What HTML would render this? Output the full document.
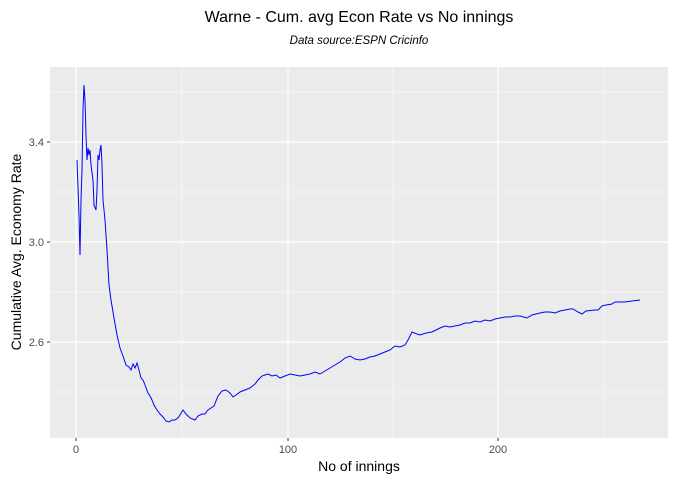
<!DOCTYPE html>
<html><head><meta charset="utf-8"><style>
body{margin:0;background:#fff;}
svg{display:block;font-family:"Liberation Sans",Arial,sans-serif;}
</style></head><body>
<svg width="676" height="482" viewBox="0 0 676 482">
<rect x="50" y="67" width="618" height="371" fill="#ebebeb"/>
<g stroke="#fff" stroke-width="0.6">
<line x1="50" x2="668" y1="92" y2="92"/><line x1="50" x2="668" y1="192" y2="192"/>
<line x1="50" x2="668" y1="292" y2="292"/><line x1="50" x2="668" y1="392" y2="392"/>
<line x1="182" x2="182" y1="67" y2="438"/><line x1="393" x2="393" y1="67" y2="438"/><line x1="604" x2="604" y1="67" y2="438"/>
</g>
<g stroke="#fff" stroke-width="1.2">
<line x1="50" x2="668" y1="142" y2="142"/><line x1="50" x2="668" y1="242" y2="242"/><line x1="50" x2="668" y1="342" y2="342"/>
<line x1="76" x2="76" y1="67" y2="438"/><line x1="288" x2="288" y1="67" y2="438"/><line x1="498" x2="498" y1="67" y2="438"/>
</g>
<g stroke="#333" stroke-width="1">
<line x1="47" x2="50" y1="142" y2="142"/><line x1="47" x2="50" y1="242" y2="242"/><line x1="47" x2="50" y1="342" y2="342"/>
<line x1="76" x2="76" y1="438" y2="441"/><line x1="288" x2="288" y1="438" y2="441"/><line x1="498" x2="498" y1="438" y2="441"/>
</g>
<polyline fill="none" stroke="#0000ff" stroke-width="1" points="77,160 79,215 80,255 81,200 82,170 83,110 84,85 85,100 86,135 87,160 88,148 89,155 90,150 91,165 93,180 94,205 96,210 97,190 98,155 99,160 100,150 101,145 102,165 103,200 105,220 107,250 109,285 111,300 114,318 117,335 120,348 123,356 126,365 129,367 131,370 133,364 135,368 137,363 139,370 141,378 143,380 145,385 148,393 150,396 152,400 154,405 157,410 160,414 163,417 166,421 169,422 172,420 175,420 178,418 183,410 186,414 190,418 195,420 198,416 202,414 205,414 208,410 211,408 214,406 218,396 222,391 226,390 230,393 233,397 236,395 240,392 245,390 250,388 255,384 258,380 262,376 265,375 268,374 272,376 276,375 280,378 285,376 290,374 300,376 310,374 315,372 320,374 325,371 330,368 335,365 340,362 345,358 350,356 355,359 360,360 365,359 370,357 375,356 380,354 385,352 390,350 395,346 400,347 405,345 408,340 412,332 417,334 420,335 426,333 432,332 436,330 440,328 445,326 450,327 455,326 460,325 465,323 470,323 475,321 480,322 485,320 490,321 495,319 500,318 505,317 510,317 515,316 520,316 527,318 532,315 540,313 545,312 550,312 555,313 560,311 565,310 570,309 573,309 578,312 582,314 586,311 595,310 598,310 602,306 606,305 612,304 615,302 625,302 632,301 640,300"/>
<g fill="#4d4d4d" font-size="11">
<text x="44" y="146" text-anchor="end">3.4</text><text x="44" y="246" text-anchor="end">3.0</text><text x="44" y="346" text-anchor="end">2.6</text>
<text x="76" y="453" text-anchor="middle">0</text><text x="288" y="453" text-anchor="middle">100</text><text x="498" y="453" text-anchor="middle">200</text>
</g>
<text x="359" y="22" text-anchor="middle" font-size="16" fill="#000">Warne - Cum. avg Econ Rate vs No innings</text>
<text x="359" y="44" text-anchor="middle" font-size="11.5" font-style="italic" fill="#000">Data source:ESPN Cricinfo</text>
<text x="359" y="471" text-anchor="middle" font-size="14" fill="#000">No of innings</text>
<text transform="translate(21,252) rotate(-90)" text-anchor="middle" font-size="14" fill="#000">Cumulative Avg. Economy Rate</text>
</svg>
</body></html>
